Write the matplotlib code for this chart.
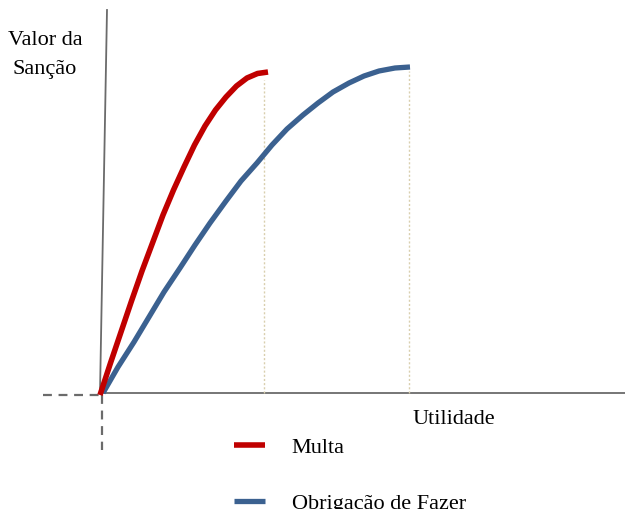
import numpy as np
import matplotlib.pyplot as plt

plt.rcParams['font.family'] = ['Liberation Serif', 'DejaVu Serif']

# curves (x = utility, y = sanction value, origin at axes cross)
multa_x = [0, 10.5, 21, 31.5, 42, 52.5, 63, 73.5, 84, 94.5, 105, 115.5, 126,
           136.5, 147, 157.5, 168]
multa_y = [0, 32, 63, 94, 124, 152, 180, 205, 228, 250, 269, 285, 298,
           309, 317, 321.5, 323]
obrig_x = [3, 18, 34, 49, 64, 80, 95, 110, 126, 141, 157, 172, 187, 203, 218,
           233, 249, 264, 279, 295, 310]
obrig_y = [2, 28, 53, 78, 103, 127, 150, 172, 194, 214, 232, 250, 266, 280,
           292, 303, 312, 319, 324, 327, 328]
labels = ['Multa', 'Obrigação de Fazer']
colors = ['#c00000', '#3b6190']

fig = plt.figure(figsize=(6.25, 5.09), dpi=100)
ax = fig.add_axes([0, 0, 1, 1])
ax.set_xlim(-100, 525)
ax.set_ylim(-114, 395)
ax.axis('off')

axis_col = '#6b6b6b'
# axes (vertical one is slightly tilted in the original)
ax.plot([0, 525], [2, 2], color=axis_col, lw=1.3, zorder=1)
ax.plot([0, 7], [2, 385], color=axis_col, lw=1.3, zorder=1)
ax.plot([-57, 0], [0, 0], color=axis_col, lw=1.6, ls=(0, (4, 3)), zorder=1)
ax.plot([2, 2], [0, -55], color=axis_col, lw=1.6, ls=(0, (4, 3)), zorder=1)

# dotted drop lines at curve ends
ax.plot([multa_x[-1] - 4, multa_x[-1] - 4], [2, multa_y[-1] - 8],
        color='#d9cfae', lw=1, ls=(0, (1.5, 1.5)), zorder=1)
ax.plot([obrig_x[-1] - 1, obrig_x[-1] - 1], [2, obrig_y[-1] - 4],
        color='#d9cfae', lw=1, ls=(0, (1.5, 1.5)), zorder=1)

ax.plot(obrig_x, obrig_y, color=colors[1], lw=3.8, solid_capstyle='butt',
        solid_joinstyle='round', label=labels[1], zorder=3)
ax.plot(multa_x, multa_y, color=colors[0], lw=4.0, solid_capstyle='butt',
        solid_joinstyle='round', label=labels[0], zorder=4)

ax.text(-55, 340, 'Valor da\nSanção', fontsize=16, ha='center', va='center',
        linespacing=1.75)
ax.text(354, -25, 'Utilidade', fontsize=16, ha='center', va='center')

handles, labs = ax.get_legend_handles_labels()
order = [labs.index(l) for l in labels]
ax.legend([handles[i] for i in order], [labs[i] for i in order],
          loc='upper left', bbox_to_anchor=(234 / 625, 1 - 437 / 509),
          frameon=False, fontsize=16, borderpad=0, borderaxespad=0,
          handlelength=1.4, handletextpad=1.2, labelspacing=1.6)

fig.savefig('out.png', dpi=100)
